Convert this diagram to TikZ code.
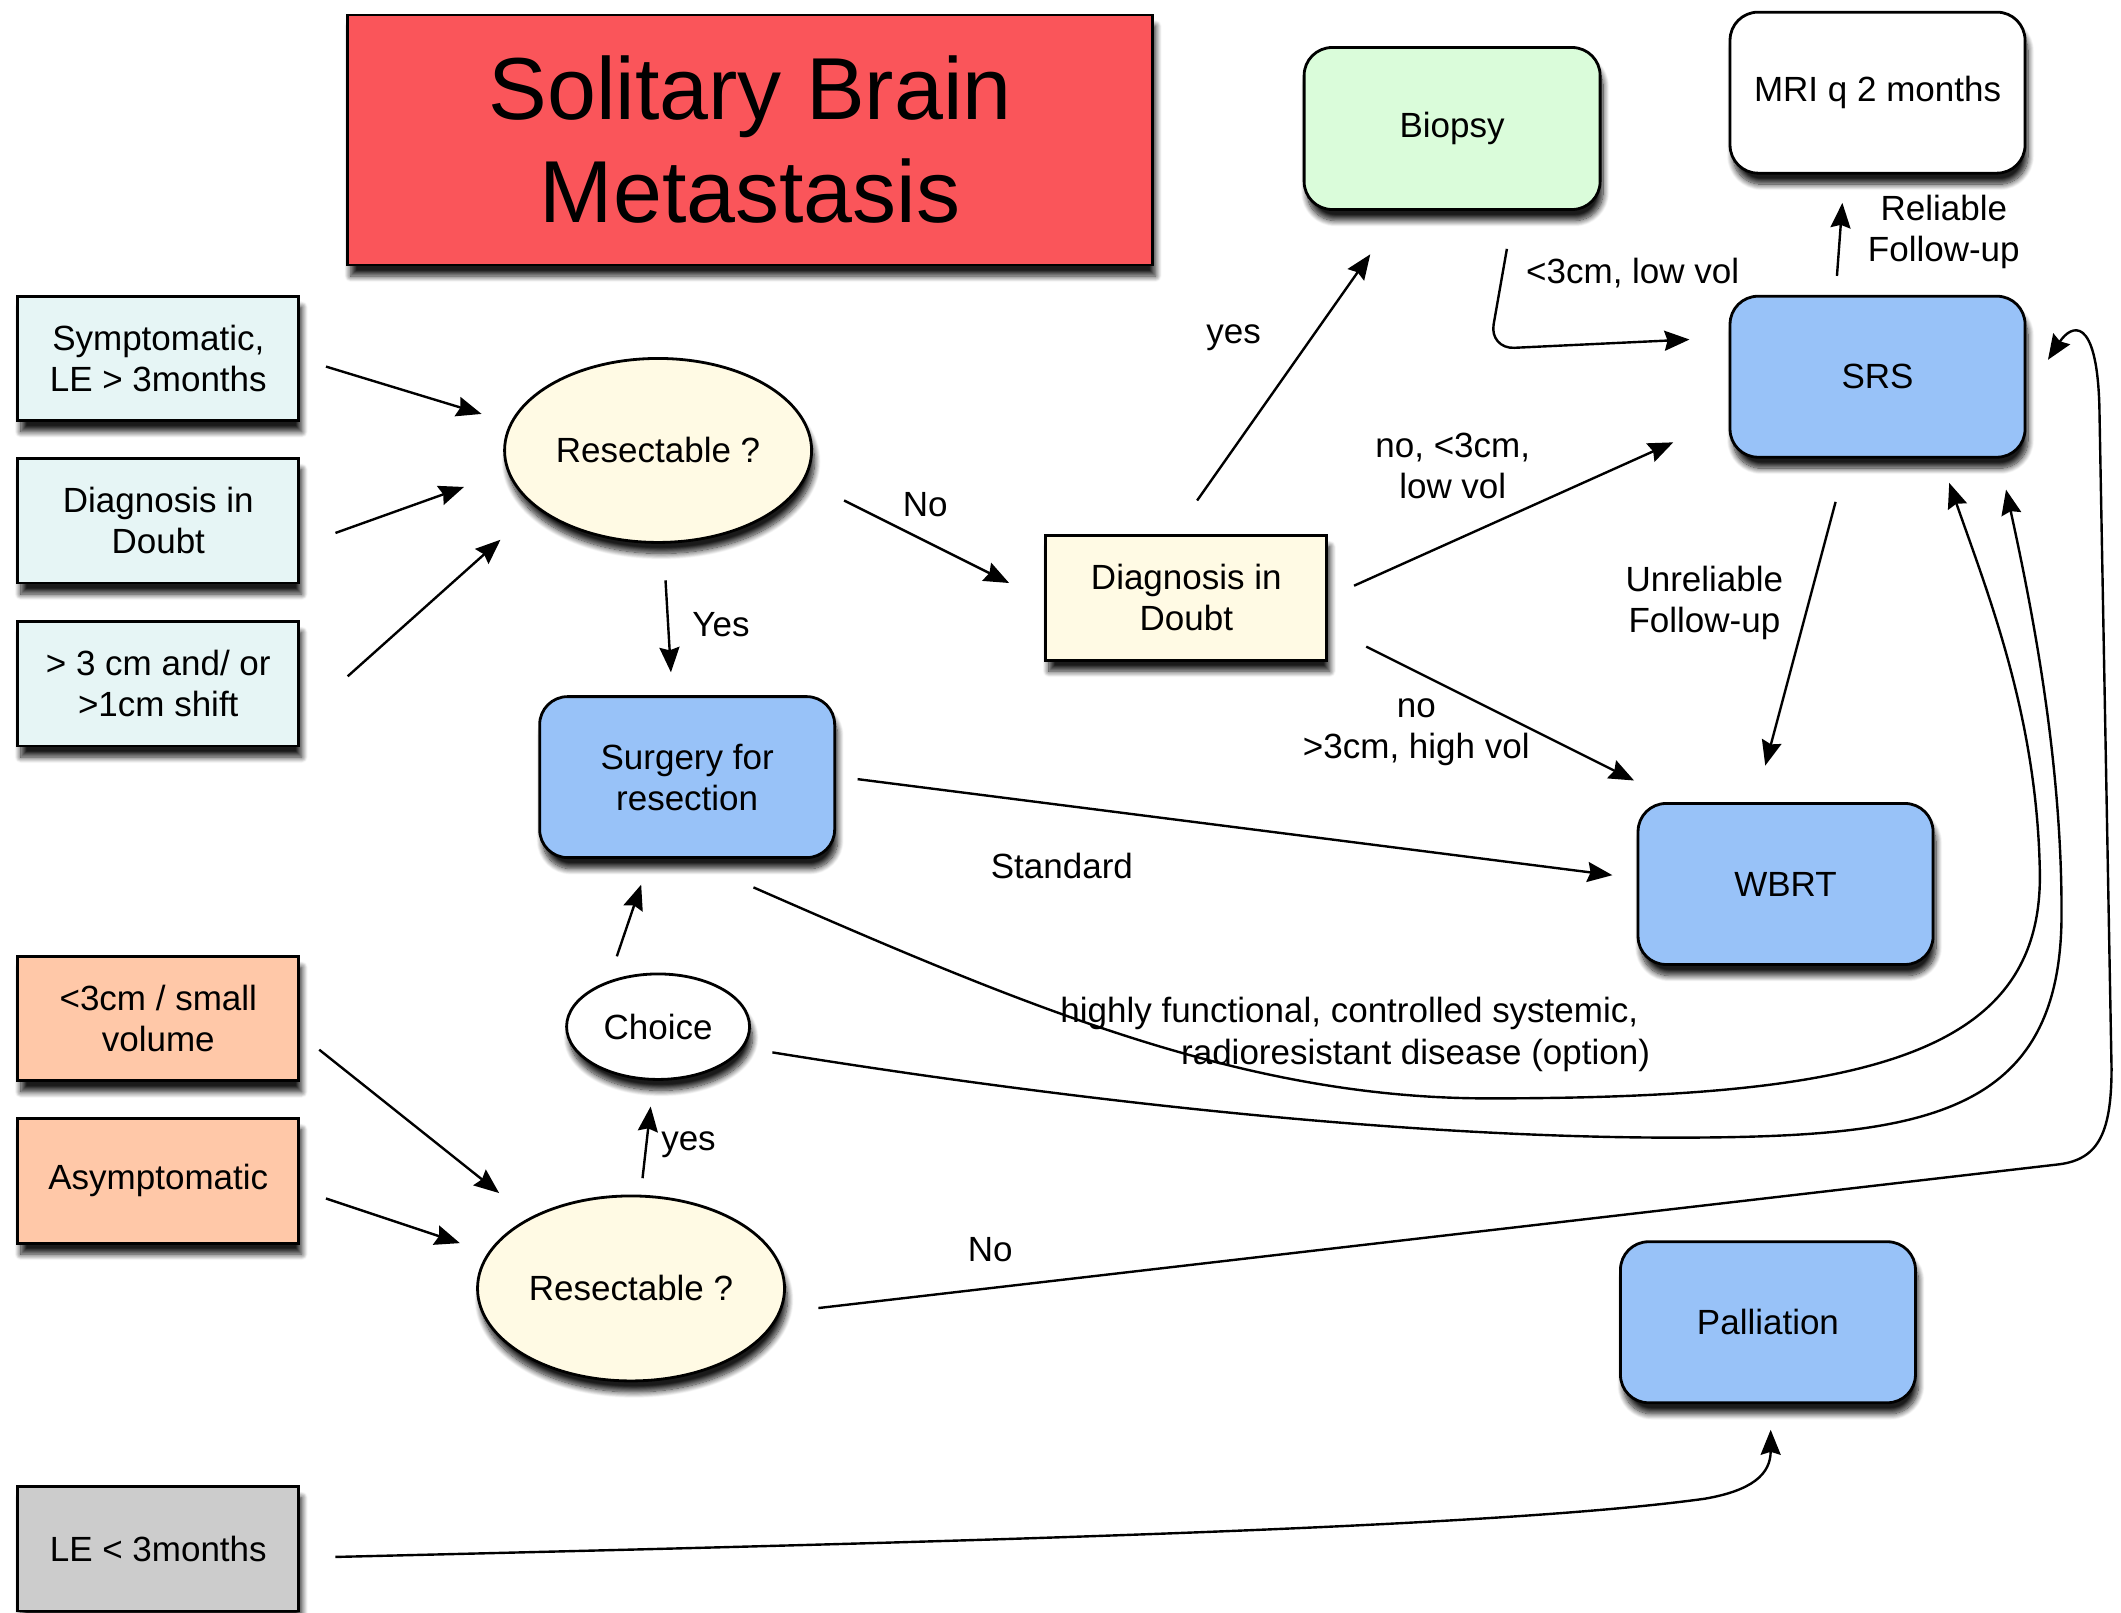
\documentclass[tikz,border=0pt]{standalone}
\usepackage{fontspec}
\setmainfont{Liberation Sans}
\usetikzlibrary{arrows.meta,shapes.geometric,shadows.blur}
\definecolor{cyanbox}{RGB}{230,245,245}
\definecolor{salmonbox}{RGB}{255,200,168}
\definecolor{graybox}{RGB}{204,204,204}
\definecolor{creambox}{RGB}{255,250,228}
\definecolor{bluebox}{RGB}{152,194,248}
\definecolor{greenbox}{RGB}{218,252,218}
\definecolor{titlered}{RGB}{250,85,90}
\begin{document}
\begin{tikzpicture}[x=1.3527pt,y=-1.3527pt,
  every node/.style={font=\fontsize{35}{41}\selectfont, align=center},
  base/.style={draw=black, line width=2.8pt, inner sep=0pt,
    blur shadow={shadow xshift=3pt, shadow yshift=-11pt, shadow blur radius=6pt, shadow blur steps=12, shadow opacity=90}},
  sqbox/.style={base, rectangle, minimum width=281pt, minimum height=124.5pt},
  rbox/.style={base, rectangle, rounded corners=28pt, minimum width=295pt, minimum height=161pt, fill=bluebox},
  oval/.style={base, ellipse, fill=creambox},
  arr/.style={line width=2.4pt, -{Stealth[length=25pt,width=20pt,inset=3pt]}},
  lbl/.style={inner sep=0pt}]
\useasboundingbox (0,0) rectangle (1568,1192);

% title
\node[base, rectangle, fill=titlered, minimum width=805pt, minimum height=250pt,
  font=\fontsize{88}{103}\selectfont] (title) at (554.5,103.5) {Solitary Brain\\Metastasis};

% left boxes
\node[sqbox, fill=cyanbox] (sym) at (117,265) {Symptomatic,\\LE > 3months};
\node[sqbox, fill=cyanbox] (diagL) at (117,385) {Diagnosis in\\Doubt};
\node[sqbox, fill=cyanbox] (cm) at (117,505.5) {> 3 cm and/ or\\>1cm shift};
\node[sqbox, fill=salmonbox] (small) at (117,753) {<3cm / small\\volume};
\node[sqbox, fill=salmonbox] (asym) at (117,873) {Asymptomatic};
\node[sqbox, fill=graybox] (le) at (117,1145) {LE < 3months};

% middle
\node[oval, minimum width=307pt, minimum height=184pt] (res1) at (486.5,333) {Resectable ?};
\node[rbox] (surg) at (508,574.5) {Surgery for\\resection};
\node[oval, fill=white, minimum width=183pt, minimum height=105.5pt] (choice) at (486.5,759) {Choice};
\node[oval, minimum width=307pt, minimum height=185pt] (res2) at (466.5,952.5) {Resectable ?};
\node[sqbox, fill=creambox] (diagM) at (877,442) {Diagnosis in\\Doubt};

% right
\node[rbox, fill=greenbox, minimum width=296pt, minimum height=162pt] (bio) at (1073.5,95) {Biopsy};
\node[rbox, fill=white] (mri) at (1388,68.5) {MRI q 2 months};
\node[rbox] (srs) at (1388,278.5) {SRS};
\node[rbox] (wbrt) at (1320,653.5) {WBRT};
\node[rbox] (pall) at (1307,977.5) {Palliation};

% labels
\node[lbl] (lno1) at (684,373) {No};
\node[lbl] (lyes1) at (533,462) {Yes};
\node[lbl] (lyes2) at (912,250) {yes};
\node[lbl] (lsrs) at (1074,344.5) {no, <3cm,\\low vol};
\node[lbl] (lwbrt) at (1047,541.5) {no\\>3cm, high vol};
\node[lbl] (lbio) at (1207,202) {<3cm, low vol};
\node[lbl] (lrel) at (1437,171.5) {Reliable\\Follow-up};
\node[lbl] (lunrel) at (1260,445.5) {Unreliable\\Follow-up};
\node[lbl] (lstd) at (785,640) {Standard};
\node[lbl] (lhigh1) at (997.5,749) {highly functional, controlled systemic,};
\node[lbl] (lhigh2) at (1046.5,780) {radioresistant disease (option)};
\node[lbl] (lyes3) at (509,846) {yes};
\node[lbl] (lno2) at (732,924) {No};

% connectors
\draw[arr] ([shift={(124,6)}]sym.center) -- ([shift={(-130.5,-27)}]res1.center);
\draw[arr] ([shift={(131,9)}]diagL.center) -- ([shift={(-143.5,27)}]res1.center);
\draw[arr] ([shift={(140,-5.5)}]cm.center) -- ([shift={(-116.5,66)}]res1.center);
\draw[arr] ([shift={(137.5,37)}]res1.center) -- ([shift={(-131,-11)}]diagM.center);
\draw[arr] ([shift={(5.5,96)}]res1.center) -- ([shift={(-12,-77.5)}]surg.center);
\draw[arr] ([shift={(8,-72)}]diagM.center) -- ([shift={(-60.5,93)}]bio.center);
\draw[arr] ([shift={(124,-9)}]diagM.center) -- ([shift={(-151,48.5)}]srs.center);
\draw[arr] ([shift={(133,36)}]diagM.center) -- ([shift={(-112,-76.5)}]wbrt.center);
\draw[arr, rounded corners=25pt] ([shift={(40.5,89)}]bio.center) -- ([shift={(27.5,163)}]bio.center) -- ([shift={(-139,-27.5)}]srs.center);
\draw[arr] ([shift={(-30,-74.5)}]srs.center) -- ([shift={(-26,81.5)}]mri.center);
\draw[arr] ([shift={(-31,92.5)}]srs.center) -- ([shift={(-15,-87.5)}]wbrt.center);
\draw[arr] ([shift={(126,1.5)}]surg.center) -- ([shift={(-128,-6.5)}]wbrt.center);
\draw[arr] ([shift={(49,81.5)}]surg.center) .. controls (760,745) and (920,812) .. (1100,812)
  .. controls (1380,812) and (1510,780) .. (1508,645)
  .. controls (1506,530) and (1470,440) .. ([shift={(53,78.5)}]srs.center);
\draw[arr] ([shift={(84.5,19)}]choice.center) .. controls (800,815) and (1050,842) .. (1250,841)
  .. controls (1420,840) and (1522,825) .. (1524,680)
  .. controls (1525,560) and (1500,440) .. ([shift={(95,83.5)}]srs.center);
\draw[arr] ([shift={(-30.5,-52)}]choice.center) -- ([shift={(-34,79.5)}]surg.center);
\draw[arr] ([shift={(8.5,-81.5)}]res2.center) -- ([shift={(-5.5,59)}]choice.center);
\draw[arr] ([shift={(119,23)}]small.center) -- ([shift={(-97.5,-70.5)}]res2.center);
\draw[arr] ([shift={(124,13)}]asym.center) -- ([shift={(-126.5,-33.5)}]res2.center);
\draw[arr] ([shift={(138.5,14.5)}]res2.center) -- (1520,861)
  .. controls (1550,858) and (1561,840) .. (1561,790) -- (1552,300)
  .. controls (1550,232) and (1531,240) .. ([shift={(126,-12.5)}]srs.center);
\draw[arr] ([shift={(131,6)}]le.center) .. controls (700,1140) and (1100,1130) .. (1260,1108)
  .. controls (1295,1102) and (1309,1090) .. ([shift={(2,79.5)}]pall.center);
\end{tikzpicture}
\end{document}
